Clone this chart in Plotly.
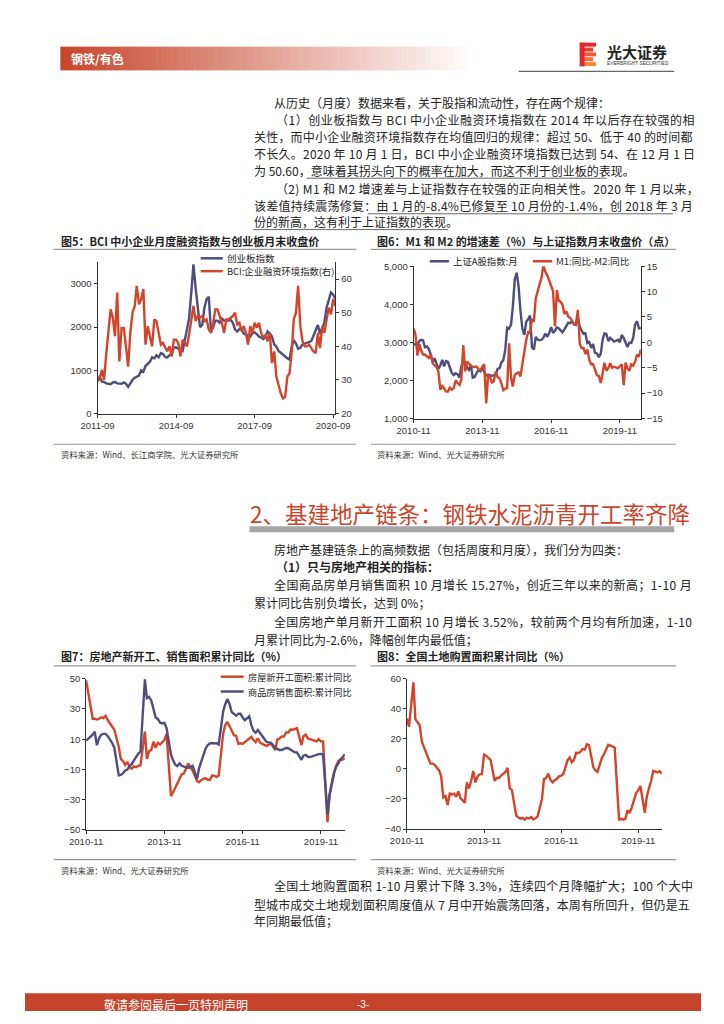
import pandas as pd
import plotly.graph_objects as go

# ---------------- DATA ----------------
# Chart 5: ChiNext index (left) & BCI financing environment index (right), 2011-09 .. 2020-10
cyb_start = "2011-09-01"
cyb_index = [780, 850, 740, 730, 700, 690, 680, 720, 730, 700, 700, 690, 720, 690, 620, 710,
             780, 830, 860, 880, 1000, 970, 1100, 1150, 1200, 1300, 1280, 1350,
             1300, 1400, 1380, 1310, 1300, 1350, 1380, 1530, 1530, 1500, 1480, 1450,
             1700, 1950, 2200, 2800, 3450, 2900, 2500, 2000, 2050, 2450, 2650, 2700,
             1900, 2000, 2150, 2150, 2100, 2200, 2150, 2150, 2150, 2170, 2100, 1950,
             1900, 1960, 1940, 1850, 1830, 1800, 1780, 1860, 1880, 1840, 1780, 1760,
             1720, 1780, 1900, 1850, 1780, 1600, 1550, 1450, 1400, 1350, 1320, 1280,
             1250, 1550, 1700, 1620, 1500, 1520, 1600, 1620, 1630, 1650, 1680, 1800,
             1900, 2050, 1850, 2000, 2100, 2450, 2650, 2800, 2750, 2650]
bci_index = [29.5, 30.5, 33, 30, 38, 46, 51, 48.5, 43, 56, 35.5, 45.5, 45.5, 40, 34, 44,
             50, 52, 58, 52.5, 54, 57, 40.5, 46, 43, 40, 48, 47.5,
             44, 40.5, 41, 39.5, 38.5, 40, 37, 42, 42, 41, 37, 42,
             41, 40, 43.5, 48, 52, 47.5, 49, 48.5, 49, 47.5, 48, 45,
             44, 47, 51, 51, 49, 47, 44, 48, 48, 48.5, 49, 50,
             46.5, 47, 44.5, 46, 44, 40.5, 46, 44, 47, 45.5, 47, 44,
             42.5, 43.5, 41.5, 44, 35, 38.5, 31, 28.5, 26, 24.5, 25, 31,
             32, 38.5, 48, 50, 58, 46, 41.5, 40, 40, 40.5, 39.5, 38.5,
             38, 44, 39.5, 46, 44, 48.5, 51.5, 49.5, 54, 52]

# Chart 6: Shanghai A-share index (left) & M1-M2 growth gap (right), 2010-11 .. 2020-10
sh_start = "2010-11-01"
sh_a_index = [2953, 2940,
              2921, 3042, 3066, 3048, 2872, 2892, 2828, 2688, 2470, 2584, 2443, 2302,
              2400, 2542, 2368, 2509, 2485, 2330, 2202, 2143, 2184, 2166, 2073, 2376,
              2497, 2476, 2342, 2279, 2408, 2072, 2088, 2197, 2277, 2242, 2324, 2216,
              2129, 2153, 2129, 2121, 2135, 2144, 2305, 2321, 2475, 2534, 2809, 3387,
              3361, 3466, 3924, 4650, 4829, 4478, 3836, 3357, 3196, 3542, 3608, 3705,
              2867, 2814, 3145, 3076, 3054, 3068, 3119, 3230, 3146, 3246, 3403, 3250,
              3307, 3394, 3374, 3303, 3263, 3342, 3427, 3519, 3506, 3552, 3473, 3462,
              3645, 3412, 3318, 3227, 3240, 2981, 3011, 2853, 2954, 2725, 2710, 2611,
              2706, 3079, 3236, 3223, 3035, 3119, 3071, 3022, 3042, 3067, 3006, 3193,
              3117, 3015, 2879, 2994, 2986, 3125, 3466, 3556, 3369, 3377]
m1_m2_gap = [2.7, 1.5,
             -2.6, -0.4, -1.6, -2.4, -2.4, -2.8, -3.1, -2.3, -4.1, -4.5, -4.9, -5.7,
             -9.3, -8.6, -9.0, -9.7, -9.7, -8.9, -9.3, -9.0, -7.5, -8.0, -8.4, -7.3,
             -0.6, -5.7, -3.8, -4.2, -4.5, -4.9, -4.8, -4.8, -5.3, -5.4, -4.8, -4.3,
             -12.0, -6.4, -6.7, -7.9, -7.7, -5.8, -6.8, -7.1, -8.1, -9.4, -9.1, -9.0,
             -0.2, -6.9, -8.7, -6.4, -6.1, -5.9, -6.7, -4.0, -1.7, 0.5, 2.0, 1.9,
             4.6, 4.1, 8.7, 10.1, 11.9, 12.8, 15.2, 13.9, 13.2, 12.3, 11.3, 10.1,
             3.2, 10.3, 8.2, 8.0, 7.4, 5.6, 6.1, 5.1, 4.8, 4.2, 3.6, 3.6,
             6.4, -0.3, -1.1, -1.1, -2.3, -1.4, -3.4, -4.3, -4.3, -5.3, -6.5, -6.6,
             -8.0, -6.0, -4.0, -5.6, -5.1, -4.1, -5.0, -4.8, -5.0, -5.1, -4.7, -4.3,
             -8.4, -4.0, -5.1, -5.6, -4.3, -4.6, -3.8, -2.4, -2.8, -1.4]

# Chart 7: new starts / sales area cumulative YoY (%), 2010-11 .. 2020-10 (Jan not published)
re_start = "2010-11-01"
new_start_yoy = [49.0, 40.7,
                 None, 23.5, 23.5, 23.0, 23.5, 24.5, 24.0, 25.5, 22.5, 20.5, 18.5, 16.2,
                 None, 5.0, -3.0, -4.5, -7.0, -5.0, -8.5, -9.5, -8.0, -8.5, -7.5, -7.3,
                 None, 15.0, -3.0, 2.0, 3.0, 8.3, 4.3, 7.6, 6.5, 8.0, 9.5, 13.5,
                 None, -27.6, -25.2, -22.3, -19.4, -16.4, -13.2, -12.5, -9.3, -6.0, -9.0, -10.7,
                 None, -17.7, -18.4, -17.1, -16.0, -15.8, -16.8, -16.8, -13.9, -14.2, -15.0, -14.0,
                 None, 13.7, 19.2, 21.4, 18.5, 14.9, 12.6, 12.2, 6.9, 7.3, 6.9, 8.1,
                 None, 10.4, 11.6, 9.4, 8.0, 10.6, 7.8, 6.9, 6.0, 5.6, 6.4, 7.0,
                 None, 2.9, 9.7, 10.5, 11.8, 11.8, 14.4, 14.4, 16.4, 16.3, 16.8, 17.2,
                 None, 6.0, 11.9, 13.1, 10.5, 10.1, 9.5, 8.9, 8.6, 10.0, 8.6, 8.5,
                 None, -44.9, -27.2, -18.4, -12.8, -7.6, -4.5, -3.6, -3.4, -2.6]
sales_yoy = [9.0, 10.1,
             None, 13.0, 15.0, 6.0, 10.5, 13.0, 13.5, 13.5, 12.0, 10.0, 7.5, 4.4,
             None, -13.9, -13.6, -12.5, -10.7, -10.0, -7.9, -6.5, -4.0, -1.4, 0.5, 1.8,
             None, 49.5, 37.1, 38.0, 35.6, 28.7, 24.4, 23.4, 21.0, 20.4, 20.8, 17.3,
             None, -0.1, -3.8, -6.7, -7.8, -6.0, -7.6, -8.3, -8.6, -8.9, -8.2, -7.6,
             None, -16.3, -9.2, -4.8, -0.2, 3.9, 6.1, 7.2, 7.5, 7.2, 7.4, 6.5,
             None, 28.2, 33.1, 36.5, 33.2, 27.9, 26.4, 25.5, 26.9, 26.8, 24.3, 22.5,
             None, 25.1, 19.5, 15.7, 14.3, 16.1, 14.0, 12.7, 10.3, 8.2, 7.9, 7.7,
             None, 4.1, 3.6, 2.9, 2.9, 3.3, 4.2, 4.0, 2.9, 2.2, 1.4, 1.3,
             None, -3.6, -0.9, -0.3, -1.6, -1.8, -1.3, -0.6, -0.1, 0.1, 0.2, -0.1,
             None, -39.9, -26.3, -19.3, -12.3, -8.4, -5.8, -3.3, -1.8, 0.0]

# Chart 8: land purchase area cumulative YoY (%), 2010-11 .. 2020-10
land_yoy = [33.5, 28.0,
            None, 57.5, 33.0, 31.0, 29.0, 18.0, 14.5, 10.5, 8.0, 3.5, 3.5, 2.6,
            None, -1.0, -4.8, -19.0, -18.0, -24.0, -16.5, -17.0, -16.5, -18.5, -15.0, -19.5,
            None, -22.4, -9.0, -13.0, -8.0, -1.5, -9.0, -5.0, -3.7, -3.5, 9.5, 8.8,
            None, 6.0, -1.0, -8.0, -6.0, -6.0, -4.5, -3.5, -2.0, 0.7, -13.0, -14.0,
            None, -31.1, -32.2, -33.1, -32.6, -33.8, -32.4, -33.0, -32.1, -33.6, -32.9, -31.7,
            None, -20.3, -6.8, -6.1, -3.1, -7.2, -9.0, -7.5, -6.6, -5.0, -4.5, -3.4,
            None, 5.9, 7.6, 4.4, 6.0, 10.7, 10.6, 11.4, 13.2, 12.8, 16.3, 15.8,
            None, 1.0, -1.0, -2.0, 3.0, 7.2, 9.7, 13.1, 16.0, 15.5, 15.0, 14.2,
            None, -34.1, -33.1, -33.8, -33.2, -27.5, -29.4, -25.6, -20.2, -16.1, -14.2, -11.4,
            None, -29.3, -18.6, -12.8, -8.1, -1.3, -1.7, -2.3, -1.6, -3.3]

# ---------------- STYLE ----------------
# The page keeps the browser's 8px body margin on every side, so the figure is
# 16px smaller than the window; page positions below are window pixels.
OFF = 8
W, H = 724 - 2 * OFF, 1024 - 2 * OFF
BLUE = "#4D4D7E"
ORANGE = "#D2452B"
RED = "#C5432A"
CJK = "Noto Sans CJK SC"
LAT = "Liberation Sans, Arial"
TXT = "#222222"


def px(x):
    return (x - OFF) / W


def py(y):
    return 1 - (y - OFF) / H


def months(start, n):
    return pd.date_range(start, periods=n, freq="MS").strftime("%Y-%m-%d").tolist()


d5 = months(cyb_start, len(cyb_index))
d6 = months(sh_start, len(sh_a_index))
d7 = months(re_start, len(new_start_yoy))
d8 = months(re_start, len(land_yoy))

fig = go.Figure()
lw = 2.4
fig.add_trace(go.Scatter(x=d5, y=cyb_index, mode="lines", line=dict(color=BLUE, width=lw),
                         xaxis="x", yaxis="y", name="创业板指数"))
fig.add_trace(go.Scatter(x=d5, y=bci_index, mode="lines", line=dict(color=ORANGE, width=lw),
                         xaxis="x", yaxis="y2", name="BCI:企业融资环境指数(右)"))
fig.add_trace(go.Scatter(x=d6, y=sh_a_index, mode="lines", line=dict(color=BLUE, width=lw),
                         xaxis="x2", yaxis="y3", name="上证A股指数:月"))
fig.add_trace(go.Scatter(x=d6, y=m1_m2_gap, mode="lines", line=dict(color=ORANGE, width=lw),
                         xaxis="x2", yaxis="y4", name="M1:同比-M2:同比"))
fig.add_trace(go.Scatter(x=d7, y=new_start_yoy, mode="lines", connectgaps=True,
                         line=dict(color=ORANGE, width=lw), xaxis="x3", yaxis="y5",
                         name="房屋新开工面积:累计同比"))
fig.add_trace(go.Scatter(x=d7, y=sales_yoy, mode="lines", connectgaps=True,
                         line=dict(color=BLUE, width=lw), xaxis="x3", yaxis="y5",
                         name="商品房销售面积:累计同比"))
fig.add_trace(go.Scatter(x=d8, y=land_yoy, mode="lines", connectgaps=True,
                         line=dict(color=ORANGE, width=lw), xaxis="x4", yaxis="y6",
                         name="全国土地购置面积累计同比"))

tickfont = dict(family=LAT, size=9.5, color="#333")
ax = dict(showgrid=False, zeroline=False, showline=True, linecolor="#333", linewidth=1,
          ticks="outside", ticklen=3, tickcolor="#333", tickfont=tickfont, fixedrange=True)


def xax(dom, rng, t0, anchor):
    return dict(ax, type="date", domain=dom, range=rng, tick0=t0, dtick="M36",
                tickformat="%Y-%m", anchor=anchor)


def yax(dom, rng, dt, anchor, **kw):
    d = dict(ax, domain=dom, range=rng, dtick=dt, anchor=anchor)
    d.update(kw)
    return d


fig.update_layout(
    width=W, height=H, autosize=False,
    margin=dict(l=0, r=0, t=0, b=0, pad=0),
    paper_bgcolor="white", plot_bgcolor="white",
    showlegend=False,
    font=dict(family=CJK, color=TXT),
    xaxis=xax([px(84), px(333)], ["2011-09-01", "2020-10-01"], "2011-09-01", "y"),
    yaxis=yax([py(412), py(259)], [0, 3500], 1000, "x", tick0=0, tickformat="d"),
    yaxis2=yax([py(412), py(259)], [20, 65], 10, "x", tick0=20, overlaying="y", side="right"),
    xaxis2=xax([px(415), px(653)], ["2010-11-01", "2020-10-01"], "2010-11-01", "y3"),
    yaxis3=yax([py(417), py(263)], [1000, 5000], 1000, "x2", tick0=1000, tickformat=",d"),
    yaxis4=yax([py(417), py(263)], [-15, 15], 5, "x2", tick0=-15, overlaying="y3", side="right"),
    xaxis3=xax([px(72), px(343)], ["2010-11-01", "2020-10-01"], "2010-11-01", "y5"),
    yaxis5=yax([py(833), py(680)], [-50, 50], 20, "x3", tick0=-50),
    xaxis4=xax([px(408), px(675)], ["2010-11-01", "2020-10-01"], "2010-11-01", "y6"),
    yaxis6=yax([py(832), py(680)], [-40, 60], 20, "x4", tick0=-40),
)

shapes = []
ann = []


def hline(x0, x1, y, color="#999", width=1.2):
    shapes.append(dict(type="line", xref="paper", yref="paper", x0=px(x0), x1=px(x1),
                       y0=py(y), y1=py(y), line=dict(color=color, width=width)))


def rect(x0, y0, x1, y1, color):
    x0, x1 = max(x0, OFF), min(x1, OFF + W)
    y0, y1 = max(y0, OFF), min(y1, OFF + H)
    shapes.append(dict(type="rect", xref="paper", yref="paper", x0=px(x0), x1=px(x1),
                       y0=py(y1), y1=py(y0), line=dict(width=0), fillcolor=color))


def text(x, y, s, size=12, color=TXT, family=CJK, anchor="left", ls=0):
    if ls:
        s = '<span style="letter-spacing:%spx">%s</span>' % (ls, s)
    ann.append(dict(x=px(x), y=py(y), xref="paper", yref="paper", text=s, showarrow=False,
                    xanchor=anchor, yanchor="middle", borderpad=0,
                    font=dict(family=family, size=size, color=color)))


# ---- header band with gradient ----
c0 = (200, 70, 44)
n = 90
x_a, x_b = 45, 480
for k in range(n):
    t = k / (n - 1)
    c = tuple(int(c0[j] * (1 - t) + 255 * t) for j in range(3))
    xa = x_a + (x_b - x_a) * k / n
    xb = x_a + (x_b - x_a) * (k + 1) / n + 0.6
    rect(xa, 41, xb, 65, "rgb(%d,%d,%d)" % c)
text(55, 53, "<b>钢铁/有色</b>", size=12, color="white")

# ---- logo ----
logo_cols = ["#E3262B", "#E8412C", "#EC5A2F", "#EF7232", "#F08A38"]
for k, col in enumerate(logo_cols):
    y0 = 37 + k * 4.9
    rect(589, y0, 606 if k % 2 == 0 else 603, y0 + 4.0, col)
rect(589, 37, 594, 61, "#E3262B")
text(616, 46, "<b>光大证券</b>", size=15, color="#222")
text(617, 58.5, "EVERBRIGHT SECURITIES", size=4.8, color="#333", family=LAT)
hline(525, 688, 66, color="#666", width=1.2)

# ---- paragraph 1 ----
text(268, 97, "从历史（月度）数据来看，关于股指和流动性，存在两个规律：")
text(270, 115, "（1）创业板指数与 BCI 中小企业融资环境指数在 2014 年以后存在较强的相", ls=0.5)
text(247, 132, "关性，而中小企业融资环境指数存在均值回归的规律：超过 50、低于 40 的时间都", ls=0.2)
text(247, 149, "不长久。2020 年 10 月 1 日，BCI 中小企业融资环境指数已达到 54、在 12 月 1 日", ls=0.25)
text(247, 166, "为 50.60，意味着其拐头向下的概率在加大，而这不利于创业板的表现。")
text(270, 184, "（2) M1 和 M2 增速差与上证指数存在较强的正向相关性。2020 年 1 月以来，", ls=0.35)
text(247, 202, "该差值持续震荡修复：由 1 月的-8.4%已修复至 10 月份的-1.4%，创 2018 年 3 月", ls=0.25)
text(247, 218, "份的新高，这有利于上证指数的表现。")
hline(303, 617, 174, color="#666", width=1)
hline(367, 687, 210, color="#666", width=1)
hline(247, 451, 226, color="#666", width=1)

# ---- chart titles / frames ----
text(45, 237, "<b>图5：BCI 中小企业月度融资指数与创业板月末收盘价</b>", size=11)
text(376, 237, "<b>图6：M1 和 M2 的增速差（%）与上证指数月末收盘价（点）</b>", size=11)
hline(38, 355, 246)
hline(370, 690, 246)
hline(38, 355, 443)
hline(370, 690, 443)
text(45, 453, "资料来源：Wind、长江商学院、光大证券研究所", size=8.3, color="#333")
text(376, 453, "资料来源：Wind、光大证券研究所", size=8.3, color="#333")

text(45, 657, "<b>图7：房地产新开工、销售面积累计同比（%）</b>", size=11)
text(376, 657, "<b>图8：全国土地购置面积累计同比（%）</b>", size=11)
hline(38, 355, 667)
hline(370, 690, 667)
hline(38, 355, 863)
hline(370, 690, 863)
text(45, 873, "资料来源：Wind、光大证券研究所", size=8.3, color="#333")
text(376, 873, "资料来源：Wind、光大证券研究所", size=8.3, color="#333")

# ---- chart legends ----
hline(192, 215, 255, color=BLUE, width=2.5)
text(218, 255, "创业板指数", size=9.5)
hline(192, 215, 268, color=ORANGE, width=2.5)
text(218, 268, "BCI:企业融资环境指数(右)", size=9.3)

hline(432, 452, 258, color=BLUE, width=2.5)
text(455, 258, "上证A股指数:月", size=9.4)
hline(540, 560, 258, color=ORANGE, width=2.5)
text(563, 258, "M1:同比-M2:同比", size=9.6)

hline(213, 237, 678, color=ORANGE, width=2.5)
text(240, 678, "房屋新开工面积:累计同比", size=9.2)
hline(213, 237, 693, color=BLUE, width=2.5)
text(240, 693, "商品房销售面积:累计同比", size=9.2)

# ---- section 2 heading ----
text(243, 512, "2、基建地产链条：钢铁水泥沥青开工率齐降", size=22.5, color="#C8452B")
rect(243, 526, 688, 532, "#A6A6A6")

text(268, 549, "房地产基建链条上的高频数据（包括周度和月度），我们分为四类：")
text(270, 567, "<b>（1）只与房地产相关的指标：</b>")
text(268, 585, "全国商品房单月销售面积 10 月增长 15.27%，创近三年以来的新高；1-10 月", ls=0.4)
text(247, 603, "累计同比告别负增长，达到 0%；")
text(268, 622, "全国房地产单月新开工面积 10 月增长 3.52%，较前两个月均有所加速，1-10", ls=0.35)
text(247, 640, "月累计同比为-2.6%，降幅创年内最低值；")

# ---- bottom paragraph ----
text(268, 889, "全国土地购置面积 1-10 月累计下降 3.3%，连续四个月降幅扩大；100 个大中", ls=0.3)
text(247, 908, "型城市成交土地规划面积周度值从 7 月中开始震荡回落，本周有所回升，但仍是五", ls=0.1)
text(247, 925, "年同期最低值；")

# ---- footer ----
rect(0, 998, 724, 1024, RED)
text(90, 1009, "敬请参阅最后一页特别声明", size=12, color="white")
text(362, 1009, "-3-", size=10, color="white", family=LAT, anchor="center")

fig.update_layout(shapes=shapes, annotations=ann)

fig.write_html("out.html", config={"displayModeBar": False, "staticPlot": True})
